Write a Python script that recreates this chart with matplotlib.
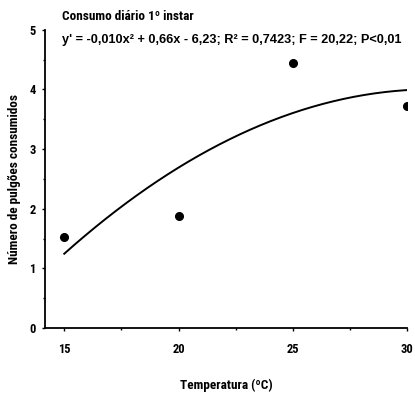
import numpy as np
import matplotlib.pyplot as plt
from matplotlib import font_manager
from matplotlib.ticker import MultipleLocator

# pick a condensed face if one is installed
installed = {f.name for f in font_manager.fontManager.ttflist}
narrow = next((n for n in ['Liberation Sans Narrow', 'DejaVu Sans Condensed',
                           'Roboto Condensed', 'Open Sans Condensed', 'Liberation Sans']
               if n in installed), 'DejaVu Sans')
plt.rcParams['font.family'] = [narrow, 'DejaVu Sans']
plt.rcParams['font.weight'] = 'bold'
plt.rcParams['axes.labelweight'] = 'bold'

# observed daily consumption, 1st instar
temperatura = [15, 20, 25, 30]
pulgoes = [1.52, 1.87, 4.44, 3.73]

# quadratic fit coefficients (a, b, c), as drawn
coef = [-0.0106, 0.66, -6.27]
equacao = "y' = -0,010x² + 0,66x - 6,23; R² = 0,7423; F = 20,22; P<0,01"

fig = plt.figure(figsize=(4.15, 3.98), dpi=100)
ax = fig.add_axes([0.108, 0.176, 0.873, 0.749])

xs = np.linspace(temperatura[0], temperatura[-1], 200)
ax.plot(xs, np.polyval(coef, xs), color='black', lw=1.4)
ax.plot(temperatura, pulgoes, 'o', color='black', ms=5.5)

ax.set_xlim(14.15, 30)
ax.set_ylim(0, 5)
ax.set_xticks([15, 20, 25, 30])
ax.set_yticks([0, 1, 2, 3, 4, 5])
ax.xaxis.set_minor_locator(MultipleLocator(2.5))
ax.yaxis.set_minor_locator(MultipleLocator(0.5))
ax.tick_params(which='both', direction='out', length=2.5, width=1, labelsize=9, pad=8)
ax.tick_params(axis='y', pad=4)
ax.tick_params(which='minor', length=1.5)
for s in ['top', 'right']:
    ax.spines[s].set_visible(False)
for s in ['left', 'bottom']:
    ax.spines[s].set_linewidth(1.3)

ax.set_xlabel('Temperatura (ºC)', fontsize=9.5, labelpad=17)
ax.set_ylabel('Número de pulgões consumidos', fontsize=9.5, labelpad=6)

fig.text(62 / 415, 1 - 17 / 398, 'Consumo diário 1º instar', fontsize=9.5, va='center')
fig.text(62 / 415, 1 - 40 / 398, equacao, fontsize=9.2, va='center',
         family=['Liberation Sans', 'DejaVu Sans'])

fig.savefig('out.png', dpi=100)
